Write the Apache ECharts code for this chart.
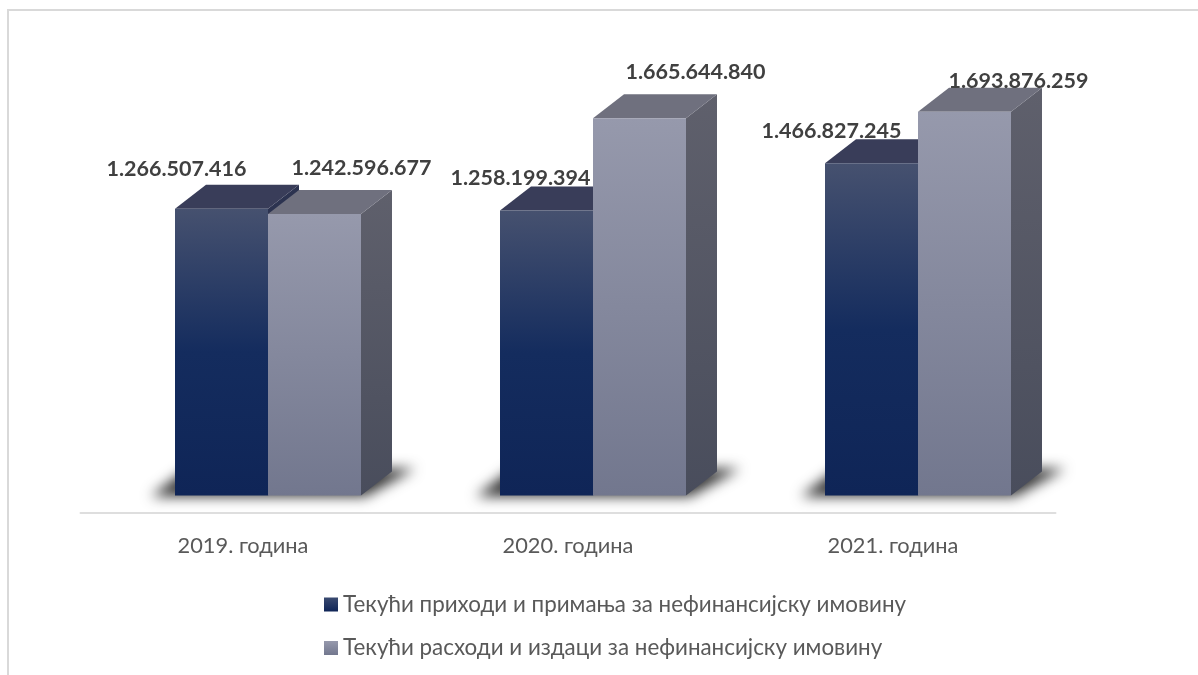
<!DOCTYPE html>
<html>
<head>
<meta charset="utf-8">
<style>html,body{margin:0;padding:0;background:#fff}#chart{width:1198px;height:675px}</style>
<script src="https://cdn.jsdelivr.net/npm/echarts@6/dist/echarts.min.js"></script>
</head>
<body>
<div id="chart"></div>
<script>
// Budget figures per year, in dinars
const years = ['2019. година', '2020. година', '2021. година'];
const revenueName = 'Текући приходи и примања за нефинансијску имовину';
const expenseName = 'Текући расходи и издаци за нефинансијску имовину';
const revenue = [1266507416, 1258199394, 1466827245];
const expense = [1242596677, 1665644840, 1693876259];

// Hand-placed value labels: horizontal and vertical shift from the bar's top-centre
const revenueLabelShift = [[-45, -40], [-26, -32], [-40, -32]];
const expenseLabelShift = [[47, -46], [56, -46], [54, -31]];

const BAR_W = 93, DEPTH_X = 31, DEPTH_Y = 24;
const PAIR_SHIFT = 25;      // extruded bars sit right of their band centre
const OFFSCREEN = 3000;     // the shadow's caster is drawn off canvas so only its blur shows
const FONT = 'Lato, "Noto Sans", sans-serif';

const vGrad = (top, bottom) => ({
  type: 'linear', x: 0, y: 0, x2: 0, y2: 1,
  colorStops: [{ offset: 0, color: top }, { offset: 1, color: bottom }]
});
const darkFront = {
  type: 'linear', x: 0, y: 0, x2: 0, y2: 1,
  colorStops: [
    { offset: 0, color: '#46516f' },
    { offset: 0.5, color: '#142c5e' },
    { offset: 1, color: '#0f2557' }
  ]
};
const revenueFaces = { front: darkFront, side: '#2c3350', top: '#393d59' };
const expenseFaces = { front: vGrad('#9699ac', '#72778e'), side: vGrad('#5f606c', '#494d5c'), top: '#6f707e' };

// One extruded bar: front, right side and top faces
function box(api, barOffset, faces) {
  const idx = api.value(0);
  const top = api.coord([idx, api.value(1)]);
  const base = api.coord([idx, 0]);
  const x0 = top[0] + PAIR_SHIFT + barOffset, x1 = x0 + BAR_W;
  const yt = top[1], yb = base[1];
  const poly = (points, fill) => ({ type: 'polygon', shape: { points }, style: { fill } });
  return {
    type: 'group',
    children: [
      poly([[x1, yt], [x1 + DEPTH_X, yt - DEPTH_Y], [x1 + DEPTH_X, yb - DEPTH_Y], [x1, yb]], faces.side),
      poly([[x0, yt], [x0 + DEPTH_X, yt - DEPTH_Y], [x1 + DEPTH_X, yt - DEPTH_Y], [x1, yt]], faces.top),
      { type: 'rect', shape: { x: x0, y: yt, width: BAR_W, height: yb - yt }, style: { fill: faces.front } }
    ]
  };
}

function labelOf(api, barOffset, shifts) {
  const idx = api.value(0);
  const val = api.value(1);
  const top = api.coord([idx, val]);
  const text = String(val).replace(/\B(?=(\d{3})+$)/g, '.');
  return {
    type: 'text',
    x: top[0] + PAIR_SHIFT + barOffset + BAR_W / 2 + shifts[idx][0],
    y: top[1] + shifts[idx][1],
    z2: 50,
    style: { text, fill: '#404040', font: 'bold 21.5px ' + FONT, align: 'center', verticalAlign: 'middle' }
  };
}

// Soft floor shadow running behind each pair of bars
function floorShadow(api) {
  const base = api.coord([api.value(0), 0]);
  const cx = base[0] + PAIR_SHIFT, y = base[1];
  const pts = [
    [cx - BAR_W - 24, y + 1], [cx + BAR_W + 4, y + 1],
    [cx + BAR_W + 54, y - 27], [cx - BAR_W + 10, y - 25]
  ];
  return {
    type: 'polygon',
    shape: { points: pts.map(p => [p[0] - OFFSCREEN, p[1]]) },
    style: {
      fill: '#000',
      shadowBlur: 13,
      shadowOffsetX: OFFSCREEN,
      shadowColor: 'rgba(0,0,0,0.8)'
    }
  };
}

const pairs = arr => arr.map((v, i) => [i, v]);

const chart = echarts.init(document.getElementById('chart'));
chart.setOption({
  animation: false,
  backgroundColor: '#fff',
  textStyle: { fontFamily: FONT },
  grid: { left: 80.5, right: 142.5, top: 11, bottom: 179.5, containLabel: false },
  xAxis: {
    type: 'category',
    data: years,
    offset: 17,
    axisLine: { show: true, onZero: false, lineStyle: { color: '#dedede', width: 2 } },
    axisTick: { show: false },
    axisLabel: { color: '#595959', fontSize: 21.8, margin: 22, fontFamily: FONT }
  },
  yAxis: { type: 'value', min: 0, max: 2139000000, show: false, splitLine: { show: false } },
  legend: {
    orient: 'vertical',
    left: 324,
    top: 593.5,
    padding: 0,
    itemWidth: 14,
    itemHeight: 14,
    itemGap: 21.5,
    icon: 'rect',
    data: [revenueName, expenseName],
    textStyle: { color: '#595959', fontSize: 22.4, fontFamily: FONT }
  },
  graphic: [
    { type: 'line', silent: true, shape: { x1: 7, y1: 10, x2: 1198, y2: 10 }, style: { stroke: '#d9d9d9', lineWidth: 2 } },
    { type: 'line', silent: true, shape: { x1: 8, y1: 10, x2: 8, y2: 675 }, style: { stroke: '#d9d9d9', lineWidth: 2 } }
  ],
  series: [
    {
      name: 'floor', type: 'custom', z: 1, silent: true,
      encode: { x: 0, y: 1 }, data: pairs(revenue), renderItem: (p, api) => floorShadow(api)
    },
    {
      name: revenueName, type: 'custom', z: 3,
      itemStyle: { color: vGrad('#3a4a70', '#0f2557') },
      encode: { x: 0, y: 1 }, data: pairs(revenue),
      renderItem: (p, api) => box(api, -BAR_W, revenueFaces)
    },
    {
      name: expenseName, type: 'custom', z: 4,
      itemStyle: { color: vGrad('#9699ac', '#72778e') },
      encode: { x: 0, y: 1 }, data: pairs(expense),
      renderItem: (p, api) => box(api, 0, expenseFaces)
    },
    {
      name: 'revenue values', type: 'custom', z: 6, silent: true,
      encode: { x: 0, y: 1 }, data: pairs(revenue),
      renderItem: (p, api) => labelOf(api, -BAR_W, revenueLabelShift)
    },
    {
      name: 'expense values', type: 'custom', z: 6, silent: true,
      encode: { x: 0, y: 1 }, data: pairs(expense),
      renderItem: (p, api) => labelOf(api, 0, expenseLabelShift)
    }
  ]
});
</script>
</body>
</html>
